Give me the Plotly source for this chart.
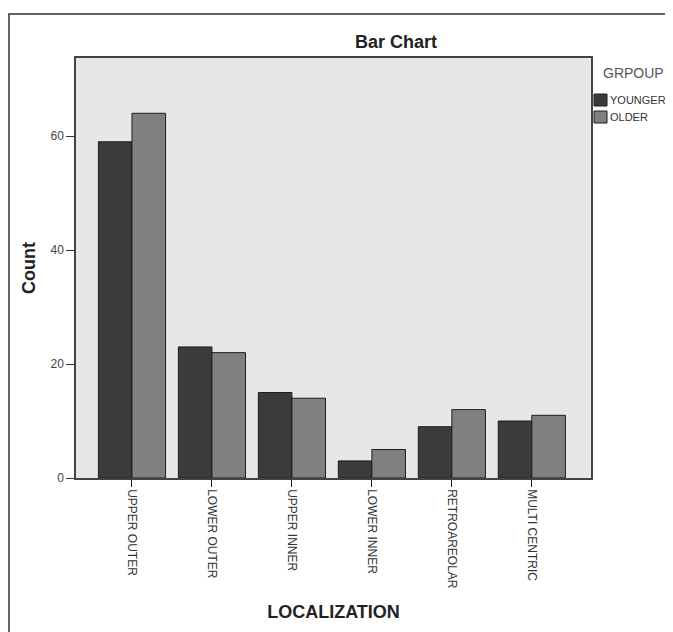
import plotly.graph_objects as go

categories = ["UPPER OUTER", "LOWER OUTER", "UPPER INNER", "LOWER INNER", "RETROAREOLAR", "MULTI CENTRIC"]
younger = [59, 23, 15, 3, 9, 10]
older = [64, 22, 14, 5, 12, 11]
series_names = ["YOUNGER", "OLDER"]
y_ticks = [0, 20, 40, 60]

# the page body has an 8px margin, so figure coords = page coords - 8
OFF = 8
W, H = 673 - OFF, 632 - OFF
L, R, T, B = 76 - OFF, 591 - OFF, 58 - OFF, 478 - OFF  # plot area in figure pixels


def px_x(p):
    return (p - OFF - L) / (R - L)


def px_y(p):
    return (B - (p - OFF)) / (B - T)


colors = ["#3b3b3b", "#808080"]

fig = go.Figure()
for name, vals, col in zip(series_names, [younger, older], colors):
    fig.add_trace(go.Bar(
        x=list(range(len(categories))), y=vals, name=name,
        marker=dict(color=col, line=dict(color="#1e1e1e", width=1)),
        showlegend=False,
    ))

fig.update_layout(
    width=W, height=H,
    margin=dict(l=L, r=W - R, t=T, b=H - B, pad=0),
    paper_bgcolor="white",
    plot_bgcolor="#e7e7e7",
    barmode="group",
    bargap=0.16,
    bargroupgap=0,
    font=dict(family="Liberation Sans, Arial, sans-serif", color="#333"),
    title=dict(text="<b>Bar Chart</b>", x=(396 - OFF) / W, xanchor="center",
               y=1 - (42 - OFF) / H, yanchor="middle",
               font=dict(size=18, color="#222")),
)

fig.update_xaxes(
    range=[-0.7, 5.74],
    tickmode="array", tickvals=list(range(len(categories))), ticktext=categories,
    tickangle=90, ticks="outside", ticklen=7, tickcolor="#222", tickwidth=1,
    tickfont=dict(size=12, color="#333"),
    showline=True, linecolor="#444", linewidth=1.5, mirror=True,
    showgrid=False, zeroline=False,
    title=dict(text="<b>LOCALIZATION</b>", font=dict(size=18, color="#222"), standoff=18),
)
fig.update_yaxes(
    range=[0, 73.7],
    tickmode="array", tickvals=y_ticks,
    ticks="outside", ticklen=8, tickcolor="#333", tickwidth=1,
    tickfont=dict(size=12, color="#444"),
    showline=True, linecolor="#444", linewidth=1.5, mirror=True,
    showgrid=False, zeroline=False,
    title=dict(text="<b>Count</b>", font=dict(size=18, color="#222"), standoff=10),
)

# outer frame (cropped by image edge)
fig.add_shape(type="rect", xref="paper", yref="paper",
              x0=px_x(9), x1=px_x(720), y0=px_y(660), y1=px_y(14),
              line=dict(color="#333", width=1.5), fillcolor="rgba(0,0,0,0)", layer="below")

# custom legend
fig.add_annotation(xref="paper", yref="paper", x=px_x(601), y=px_y(73),
                   xanchor="left", yanchor="middle", showarrow=False,
                   text="GRPOUP", font=dict(size=14, color="#555"))
for i, (name, col) in enumerate(zip(series_names, colors)):
    cy = 100 + i * 17
    fig.add_shape(type="rect", xref="paper", yref="paper",
                  x0=px_x(594), x1=px_x(607), y0=px_y(cy + 6), y1=px_y(cy - 6),
                  fillcolor=col, line=dict(color="#1e1e1e", width=1))
    fig.add_annotation(xref="paper", yref="paper", x=px_x(608), y=px_y(cy),
                       xanchor="left", yanchor="middle", showarrow=False,
                       text=name, font=dict(size=11, color="#333"))

fig.write_html("out.html")
